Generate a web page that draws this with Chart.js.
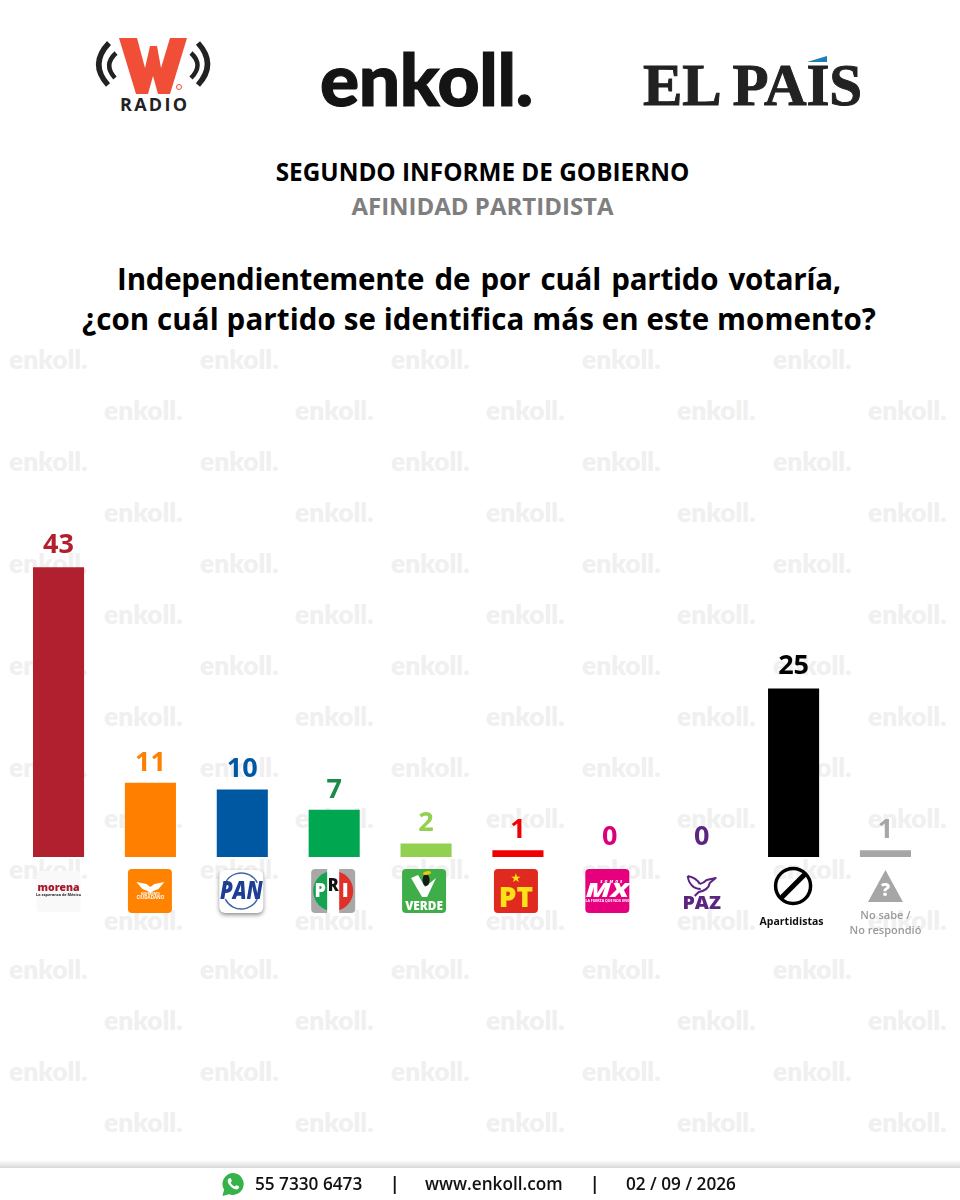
<!DOCTYPE html>
<html lang="es">
<head>
<meta charset="utf-8">
<title>Afinidad partidista</title>
<script src="https://cdn.jsdelivr.net/npm/chart.js@4"></script>
<style>
  html, body { margin: 0; padding: 0; background: #fff; }
  #page { position: relative; width: 960px; height: 1200px; overflow: hidden; font-family: "Open Sans", sans-serif; }
  #page > * { position: absolute; }
  canvas { left: 0; top: 0; }
  .wm { font: 800 26.3px Lato, "Open Sans", sans-serif; color: #f0f0f0; line-height: 24px; }
  .head { left: 0; width: 965px; text-align: center; font-weight: 700; white-space: nowrap; }
  .title { left: 0; width: 958px; text-align: center; font-weight: 700; white-space: nowrap; font-size: 29.5px; line-height: 40px; color: #000; }
  .foot { top: 1173px; font-weight: 600; font-size: 17.2px; line-height: 22px; color: #111; white-space: nowrap; }
</style>
</head>
<body>
<div id="page">
  <div id="watermarks"></div>

  <svg style="left:0;top:0" width="960" height="130" viewBox="0 0 960 130">
    <polygon fill="#f04e37" points="119,38 137,38 145,68 150,46 157,46 161,68 170,38 187,38 170,94 158,94 153,76 148,94 136,94"/>
    <circle cx="179" cy="87" r="2.500" fill="none" stroke="#f04e37" stroke-width="1"/>
    <g fill="none" stroke="#222">
      <path d="M109 43 Q89 64 108 85" stroke-width="5.500"/>
      <path d="M116 53 Q103 65 115 78" stroke-width="4.500"/>
      <path d="M198 43 Q217 64 198 85" stroke-width="5.500"/>
      <path d="M191 53 Q204 65 191 78" stroke-width="4.500"/>
    </g>
    <text x="120" y="111" textLength="67" font-family="Open Sans" font-weight="700" font-size="18" fill="#222">RADIO</text>
    <text x="320" y="106" textLength="213" font-family="Lato" font-weight="900" font-size="73" fill="#141414" stroke="#141414" stroke-width="1.200">enkoll.</text>
    <text x="643" y="105" textLength="219" font-family="Liberation Serif" font-weight="700" font-size="59" fill="#222" stroke="#222" stroke-width="1">EL PAÍS</text>
    <rect x="800" y="46" width="32" height="18" fill="#fff"/>
    <polygon fill="#1f7fb5" points="807,62 827,56 827,62"/>
  </svg>

  <div class="head" style="top:156px;font-size:24.300px;line-height:32px;color:#000">SEGUNDO INFORME DE GOBIERNO</div>
  <div class="head" style="top:190px;font-size:24px;line-height:32px;color:#7f7f7f">AFINIDAD PARTIDISTA</div>
  <div class="title" style="top:259px;letter-spacing:-.25px;word-spacing:3px">Independientemente de por cuál partido votaría,</div>
  <div class="title" style="top:299px;letter-spacing:.1px">¿con cuál partido se identifica más en este momento?</div>

  <canvas id="chart" width="960" height="1200"></canvas>

  <div style="left:0;top:1160px;width:960px;height:8px;background:linear-gradient(#fff,#d8d8d8)"></div>
  <svg style="left:221px;top:1172px" width="25" height="25" viewBox="0 0 25 25">
    <path fill="#35b24a" d="M12.500 1a11 11 0 0 0-9.400 16.700L1.400 24l6.500-1.700A11 11 0 1 0 12.500 1z"/>
    <path fill="#fff" d="M8.600 6.200c-.5 0-1.300.5-1.700 1.500-.5 1.300-.2 3 1.400 5.100 1.900 2.500 4 3.900 6.200 4.500 1.600.4 3-.4 3.400-1.600.2-.6.2-1.200.1-1.300-.5-.4-1.900-1-2.400-1.200-.4-.1-.6.100-1.200.9-.3.3-.5.400-.9.200-1.600-.7-2.800-1.900-3.600-3.400-.2-.4 0-.6.200-.8.400-.4.700-.8.700-1.200 0-.4-.7-2-.9-2.400-.2-.3-.4-.3-.7-.3z"/>
  </svg>
  <div class="foot" style="left:255px">55 7330 6473</div>
  <div class="foot" style="left:390px;font-weight:700">|</div>
  <div class="foot" style="left:425px">www.enkoll.com</div>
  <div class="foot" style="left:590px;font-weight:700">|</div>
  <div class="foot" style="left:626px">02 / 09 / 2026</div>
</div>

<script>
const categories = ['morena', 'Movimiento Ciudadano', 'PAN', 'PRI', 'Verde', 'PT', 'Somos MX', 'PAZ', 'Apartidistas', 'No sabe / No respondió'];
const values = [43, 11, 10, 7, 2, 1, 0, 0, 25, 1];
const barColors = ['#b0202e', '#ff8000', '#0058a3', '#00a650', '#92d050', '#f00000', '#e6007e', '#5b2580', '#000000', '#a6a6a6'];
const valueColors = ['#b0202e', '#ff8000', '#0058a3', '#1d8a4a', '#92d050', '#f00000', '#d9007e', '#5b2580', '#000000', '#a6a6a6'];

// marca de agua
const wmEl = document.getElementById('watermarks');
[360, 411, 462, 513, 564, 615, 666, 717, 768, 819, 870, 921, 970, 1021, 1072, 1123].forEach((y, row) => {
  const xs = row % 2 ? [104, 295, 486, 677, 868] : [9, 200, 391, 582, 773];
  xs.forEach(x => {
    const d = document.createElement('div');
    d.className = 'wm';
    d.style.cssText = `position:absolute;left:${x}px;top:${y - 13}px`;
    d.textContent = 'enkoll.';
    wmEl.appendChild(d);
  });
});

function box(ctx, cx, color, w) {
  ctx.fillStyle = color;
  ctx.beginPath();
  ctx.roundRect(cx - w / 2, 869, w, 44, 4);
  ctx.fill();
}

function txt(ctx, s, x, y, font, color) {
  ctx.font = font;
  ctx.fillStyle = color;
  ctx.fillText(s, x, y);
}

// texto con escala horizontal, para los logos mas anchos
function wideTxt(ctx, s, x, y, sx, font, color) {
  ctx.save();
  ctx.translate(x, y);
  ctx.scale(sx, 1);
  txt(ctx, s, 0, 0, font, color);
  ctx.restore();
}

// logos de cada partido, dibujados bajo la barra
const logos = {
  'morena'(ctx, x) {
    ctx.fillStyle = '#f9f9f9';
    ctx.beginPath(); ctx.roundRect(x - 22, 871, 44, 41, 4); ctx.fill();
    txt(ctx, 'morena', x, 888.500, '800 10.500px "Open Sans"', '#a5192b');
    txt(ctx, 'La esperanza de México', x, 895, '700 3.800px "Open Sans"', '#222');
  },
  'Movimiento Ciudadano'(ctx, x) {
    box(ctx, x - 0.500, '#ff8200', 44);
    ctx.fillStyle = '#fff';
    ctx.beginPath();
    ctx.moveTo(x - 14, 882); ctx.lineTo(x - 4, 884); ctx.lineTo(x, 887); ctx.lineTo(x + 4, 884); ctx.lineTo(x + 14, 882);
    ctx.lineTo(x + 8, 889); ctx.lineTo(x + 3, 891); ctx.lineTo(x, 893); ctx.lineTo(x - 3, 891); ctx.lineTo(x - 8, 889);
    ctx.closePath(); ctx.fill();
    txt(ctx, 'MOVIMIENTO', x, 894.500, '700 2.800px "Open Sans"', '#fff');
    txt(ctx, 'CIUDADANO', x, 898, '700 4.500px "Open Sans"', '#fff');
  },
  'PAN'(ctx, x) {
    const cx = x - 1;
    ctx.save();
    ctx.shadowColor = 'rgba(0,0,0,.45)'; ctx.shadowBlur = 4; ctx.shadowOffsetY = 2;
    ctx.fillStyle = '#fff';
    ctx.beginPath(); ctx.roundRect(cx - 22, 870, 44, 43, 6); ctx.fill();
    ctx.restore();
    ctx.strokeStyle = '#3f63a8'; ctx.lineWidth = 1.400;
    ctx.beginPath(); ctx.arc(cx, 891, 18, Math.PI * 1.15, Math.PI * 1.85); ctx.stroke();
    ctx.beginPath(); ctx.arc(cx, 891, 18, Math.PI * 0.15, Math.PI * 0.85); ctx.stroke();
    wideTxt(ctx, 'PAN', cx, 892, 0.82, 'italic 800 25px "Open Sans"', '#1c3f94');
  },
  'PRI'(ctx, x) {
    const cx = x - 1;
    box(ctx, cx, '#a8a8a8', 44);
    ctx.fillStyle = '#16a34f';
    ctx.beginPath(); ctx.arc(cx, 891, 20, Math.PI / 2, Math.PI * 1.5); ctx.closePath(); ctx.fill();
    ctx.fillStyle = '#e0302a';
    ctx.beginPath(); ctx.arc(cx, 891, 20, -Math.PI / 2, Math.PI / 2); ctx.closePath(); ctx.fill();
    ctx.fillStyle = '#fff';
    ctx.fillRect(cx - 6, 869, 12, 44);
    wideTxt(ctx, 'P', cx - 13, 891, 0.9, '800 20px "Open Sans"', '#fff');
    wideTxt(ctx, 'R', cx, 886, 0.9, '800 18px "Open Sans"', '#111');
    wideTxt(ctx, 'I', cx + 12, 891, 1, '800 20px "Open Sans"', '#fff');
  },
  'Verde'(ctx, x) {
    const cx = x - 2;
    box(ctx, cx, '#3fae49', 44);
    ctx.fillStyle = '#fff';
    ctx.beginPath();
    ctx.moveTo(cx - 13, 878); ctx.lineTo(cx - 6, 875); ctx.lineTo(cx + 1, 887); ctx.lineTo(cx + 12, 878); ctx.lineTo(cx + 3, 897); ctx.lineTo(cx - 2, 897);
    ctx.closePath(); ctx.fill();
    ctx.fillStyle = '#1a1a1a';
    ctx.beginPath(); ctx.ellipse(cx + 2, 880, 3.500, 6, 0, 0, Math.PI * 2); ctx.fill();
    ctx.fillStyle = '#f6c700';
    ctx.beginPath(); ctx.ellipse(cx + 3, 873, 4, 1.800, -0.2, 0, Math.PI * 2); ctx.fill();
    txt(ctx, 'VERDE', cx, 906.500, '800 11.800px "Open Sans"', '#fff');
  },
  'PT'(ctx, x) {
    const cx = x - 2;
    box(ctx, cx, '#e0291f', 44);
    txt(ctx, '★', cx, 879, '700 12px "DejaVu Sans"', '#fbe216');
    txt(ctx, 'PT', cx, 899, '800 28px "Open Sans"', '#fbe216');
  },
  'Somos MX'(ctx, x) {
    const cx = x - 2.500;
    box(ctx, cx, '#e6007e', 44);
    ctx.letterSpacing = '2px';
    txt(ctx, 'SOMOS', cx + 5, 882, 'italic 800 4px "Open Sans"', '#fff');
    ctx.letterSpacing = '0px';
    wideTxt(ctx, 'MX', cx, 892, 1.45, 'italic 800 19px "Open Sans"', '#fff');
    txt(ctx, 'LA FUERZA QUE NOS UNE', cx, 901, '700 3.500px "Open Sans"', '#fff');
  },
  'PAZ'(ctx, x) {
    ctx.strokeStyle = '#5b2580';
    ctx.lineWidth = 2;
    ctx.lineJoin = 'round';
    ctx.beginPath();
    ctx.moveTo(x - 14, 876); ctx.bezierCurveTo(x - 9, 877, x - 4, 880, x - 2, 884);
    ctx.moveTo(x - 14, 876); ctx.bezierCurveTo(x - 13, 884, x - 8, 889, x - 1, 889);
    ctx.moveTo(x - 2, 884); ctx.quadraticCurveTo(x + 2, 883, x + 5, 880);
    ctx.lineTo(x + 14, 878); ctx.lineTo(x + 8, 883);
    ctx.quadraticCurveTo(x + 7, 890, x - 3, 892); ctx.lineTo(x - 7, 896);
    ctx.stroke();
    wideTxt(ctx, 'PAZ', x, 904, 1.15, '800 17px "Open Sans"', '#5b2580');
  },
  'Apartidistas'(ctx, x) {
    const cx = x - 0.500;
    ctx.strokeStyle = '#000'; ctx.lineWidth = 3.500;
    ctx.beginPath(); ctx.arc(cx, 886, 17.500, 0, Math.PI * 2); ctx.stroke();
    ctx.lineWidth = 5;
    ctx.beginPath(); ctx.moveTo(cx - 12, 898); ctx.lineTo(cx + 12, 874); ctx.stroke();
    txt(ctx, 'Apartidistas', x - 2, 922, '700 10.500px "Open Sans"', '#111');
  },
  'No sabe / No respondió'(ctx, x) {
    ctx.fillStyle = '#a6a6a6';
    ctx.beginPath(); ctx.moveTo(x, 870); ctx.lineTo(x + 17.500, 902); ctx.lineTo(x - 17.500, 902); ctx.closePath(); ctx.fill();
    txt(ctx, '?', x, 891, '800 18px "Open Sans"', '#fff');
    txt(ctx, 'No sabe /', x, 915.500, '600 11px "Open Sans"', '#9a9a9a');
    txt(ctx, 'No respondió', x, 931, '600 11px "Open Sans"', '#9a9a9a');
  }
};

// numeros sobre las barras y logos
const barDecor = {
  id: 'barDecor',
  afterDatasetsDraw(chart) {
    const { ctx } = chart;
    const meta = chart.getDatasetMeta(0);
    ctx.save();
    ctx.textAlign = 'center';
    ctx.textBaseline = 'middle';
    meta.data.forEach((bar, i) => {
      const gap = values[i] > 20 ? 22 : 20;
      txt(ctx, String(values[i]), bar.x, bar.y - gap, '700 27px "Open Sans"', valueColors[i]);
      logos[categories[i]](ctx, bar.x);
    });
    ctx.restore();
  }
};

new Chart(document.getElementById('chart'), {
  type: 'bar',
  data: {
    labels: categories,
    datasets: [{
      data: values,
      backgroundColor: barColors,
      borderWidth: 0,
      categoryPercentage: 1,
      barPercentage: 0.556
    }]
  },
  options: {
    responsive: false,
    animation: false,
    layout: { padding: { left: 12.6, right: 28.6, top: 520, bottom: 343 } },
    plugins: { legend: { display: false }, tooltip: { enabled: false } },
    scales: {
      x: { display: false },
      y: { display: false, min: 0, max: 50 }
    }
  },
  plugins: [barDecor]
});
</script>
</body>
</html>
